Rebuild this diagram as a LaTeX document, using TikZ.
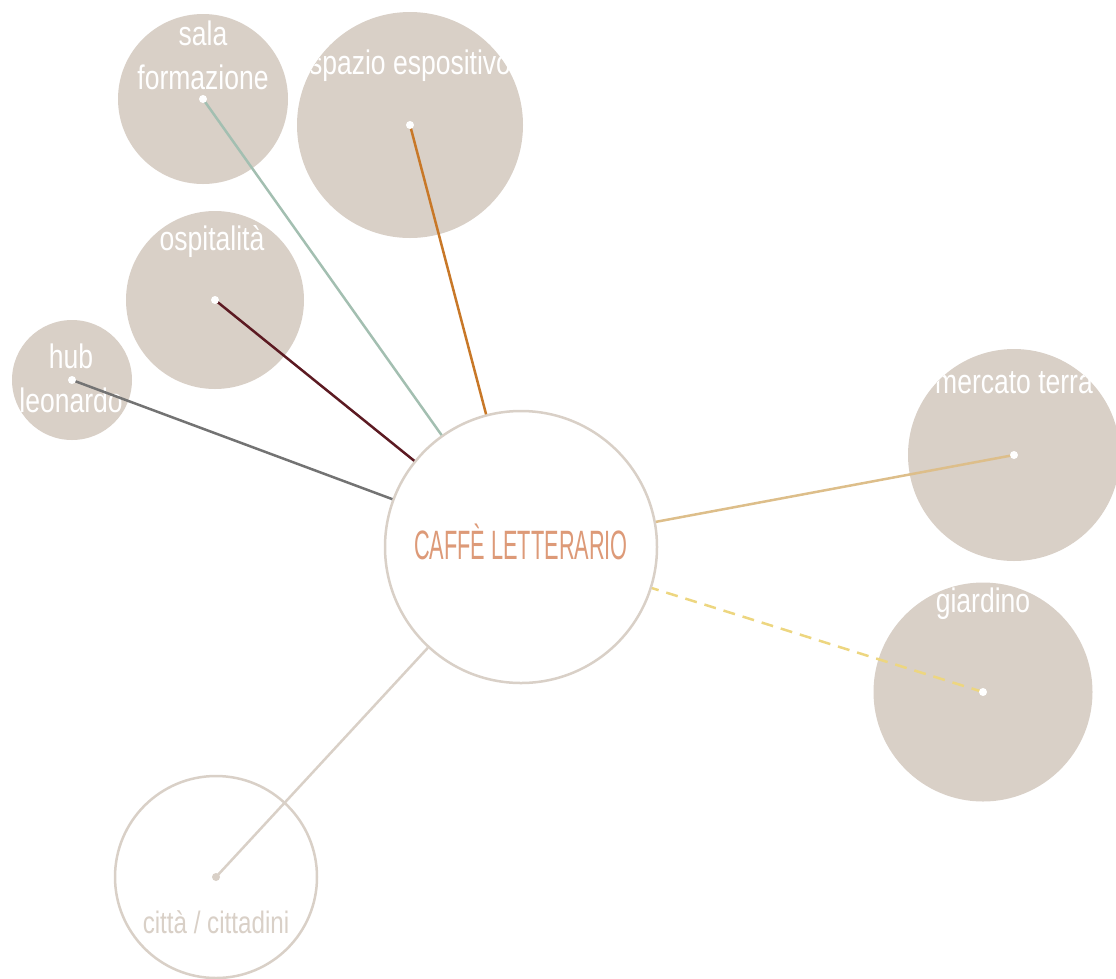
\documentclass[tikz,border=0pt]{standalone}
\usepackage{fontspec}
\newfontfamily\lblfont[FakeStretch=0.78]{Liberation Sans}
\newfontfamily\titlefont[FakeStretch=0.53]{Liberation Sans}
\definecolor{bubble}{HTML}{D9D0C7}
\definecolor{lnsala}{HTML}{A3BFB1}
\definecolor{lnspazio}{HTML}{C87828}
\definecolor{lnospit}{HTML}{5C1A22}
\definecolor{lnhub}{HTML}{737373}
\definecolor{lnmercato}{HTML}{DDBE8A}
\definecolor{lngiardino}{HTML}{EDD680}
\definecolor{titlecol}{HTML}{DD9A78}
\tikzset{
  bubblenode/.style={circle, fill=bubble, draw=none, inner sep=0pt, minimum size=#1},
  hubnode/.style={circle, fill=white, draw=bubble, line width=2.5pt, inner sep=0pt, minimum size=#1},
  lbl/.style={text=white, anchor=base, inner sep=0pt, font=\lblfont\fontsize{34}{44}\selectfont},
  link/.style={line width=2.5pt},
  startdot/.style={fill=white}
}
\begin{document}
\begin{tikzpicture}[x=1pt,y=-1pt]
\useasboundingbox (0,0) rectangle (1116,978);
\clip (0,0) rectangle (1116,978);

% satellite bubbles
\node[bubblenode=170pt] (sala) at (203,99) {};
\node[bubblenode=226pt] (spazio) at (410,125) {};
\node[bubblenode=178pt] (ospit) at (215,300) {};
\node[bubblenode=120pt] (hub) at (72,380) {};
\node[bubblenode=212pt] (mercato) at (1014,455) {};
\node[bubblenode=219pt] (giardino) at (983,692) {};

% outlined bubbles
\node[hubnode=272pt] (caffe) at (521,547) {};
\node[hubnode=202pt] (citta) at (216,877) {};

% labels, kept inside their bubbles
\begin{scope}
  \clip (203,99) circle (85pt);
  \node[lbl] (salaA) at (203,45) {sala};
  \node[lbl] (salaB) at (203,89) {formazione};
\end{scope}
\begin{scope}
  \clip (410,125) circle (113pt);
  \node[lbl] (spazioL) at (410,74) {spazio espositivo};
\end{scope}
\begin{scope}
  \clip (215,300) circle (89pt);
  \node[lbl] (ospitL) at (212,250) {ospitalità};
\end{scope}
\begin{scope}
  \clip (72,380) circle (60pt);
  \node[lbl] (hubA) at (71,368) {hub};
  \node[lbl] (hubB) at (71,412) {leonardo};
\end{scope}
\begin{scope}
  \clip (1014,455) circle (106pt);
  \node[lbl] (mercatoL) at (1014,393) {mercato terra};
\end{scope}
\begin{scope}
  \clip (983,692) circle (110pt);
  \node[lbl] (giardinoL) at (983,612) {giardino};
\end{scope}
\node[lbl, text=titlecol, font=\titlefont\fontsize{41}{44}\selectfont] (caffeL) at (521,559) {CAFFÈ LETTERARIO};
\node[lbl, text=bubble, font=\lblfont\fontsize{31}{40}\selectfont] (cittaL) at (216,933) {città / cittadini};

% connectors
\draw[link, lnsala] (sala.center) -- (caffe);
\draw[link, lnspazio] (spazio.center) -- (caffe);
\draw[link, lnospit] (ospit.center) -- (caffe);
\draw[link, lnhub] (hub.center) -- (caffe);
\draw[link, lnmercato] (mercato.center) -- (caffe);
\draw[link, lngiardino, dash pattern=on 12pt off 8pt] (giardino.center) -- (caffe);
\draw[link, bubble] (citta.center) -- (caffe);

% end dots
\foreach \n in {sala,spazio,ospit,hub,mercato,giardino}
  \fill[startdot] (\n.center) circle (4pt);
\fill[bubble] (citta.center) circle (4pt);
\end{tikzpicture}
\end{document}
